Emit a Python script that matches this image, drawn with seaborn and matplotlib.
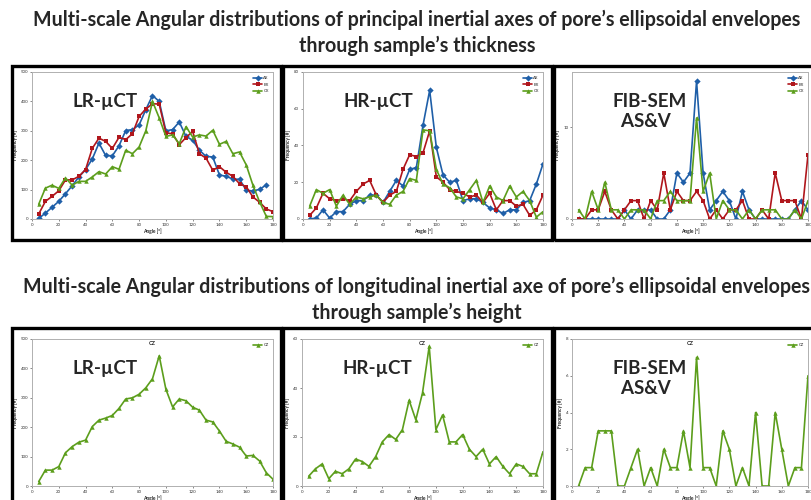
"""Multi-scale angular distributions of pore inertial axes (LR-uCT / HR-uCT / FIB-SEM)."""
import matplotlib
matplotlib.use("Agg")

import matplotlib.pyplot as plt
import numpy as np
import pandas as pd
import seaborn as sns
from matplotlib.patches import Rectangle

# =============================================================================
# Data
# =============================================================================
angles = list(range(5, 185, 5))

lr_ax = [2, 20, 40, 60, 86, 113, 143, 168, 204, 258, 216, 215, 249, 301, 304, 320, 372, 420,
         400, 300, 304, 330, 281, 268, 234, 213, 211, 150, 145, 136, 135, 98, 95, 101, 116, None]
lr_bx = [17, 60, 77, 96, 133, 133, 145, 168, 240, 275, 264, 240, 278, 270, 290, 349, 374, 392,
         391, 293, 290, 253, 277, 298, 222, 207, 166, 178, 159, 145, 120, 110, 75, 57, 34, 25]
lr_cx = [50, 105, 115, 104, 140, 115, 128, 128, 143, 161, 153, 178, 169, 234, 222, 245, 300, 400,
         344, 281, 286, 256, 314, 279, 286, 282, 302, 254, 264, 222, 228, 184, 115, 58, 9, 8]

hr_ax = [0, 0.5, 5, 0.5, 4, 4, 8, 10, 10, 13, 13, 9, 15, 21, 18, 27, 28, 51,
         70, 39, 24, 20, 21, 10, 11, 11, 9, 6, 5, 3, 5, 5, 9, 10, 19, 30]
hr_bx = [2, 6, 14, 11, 10, 11, 10, 15, 19, 21, 13, 9, 13, 15, 27, 35, 34, 36,
         48, 23, 20, 16, 15, 14, 12, 13, 9, 14, 5, 10, 10, 7, 8, 2, 5, 13]
hr_cx = [7, 16, 14, 16, 7, 13, 8, 12, 11, 12, 13, 9, 8, 13, 15, 22, 21, 48.5,
         48, 27, 19, 17, 12, 11, 16, 21, 9, 18, 12, 10, 18, 12, 15, 10, 1, 4]

fib_ax = [0, 0, 0, 0, 0, 0, 0, 1, 0, 1, 1, 1, 0, 0, 1, 5, 4, 5,
          15, 5, 1, 2, 3, 2, 0, 3, 1, 0, 0, 0, 0, 0, 0, 1, 2, 1]
fib_bx = [0, 0, 1, 1, 3, 1, 0, 1, 2, 2, 0, 2, 1, 5, 1, 3, 2, 2,
          3, 2, 0, 1, 0, 1, 1, 2, 0, 0, 1, 0, 5, 2, 2, 2, 0, 7]
fib_cx = [1, 0, 3, 1, 4, 1, 1, 0, 1, 1, 1, 0, 2, 2, 3, 2, 2, 2,
          11, 3, 5, 0, 2, 1, 1, 0, 1, 0, 1, 1, 1, 0, 0, 1, 0, 2]

lr_cz = [15, 54, 54, 66, 113, 134, 149, 156, 202, 224, 231, 240, 264, 296, 300, 312, 334, 365,
         443, 329, 269, 296, 290, 268, 258, 224, 218, 187, 152, 143, 132, 102, 104, 85, 45, 23]
hr_cz = [4, 7, 9, 3, 6, 5, 7, 11, 10, 8, 12, 18, 21, 19, 23, 35, 27, 38,
         57, 23, 29, 18, 18, 21, 15, 12, 15, 9, 12, 8, 5, 9, 8, 5, 5, 14]
fib_cz = [0, 1, 1, 3, 3, 3, 0, 0, 1, 2, 0, 1, 0, 2, 1, 1, 3, 1,
          7, 1, 1, 0, 3, 2, 0, 1, 0, 4, 0, 0, 4, 2, 0, 1, 1, 6]

section_titles = [
    "Multi-scale Angular distributions of principal inertial axes of pore\u2019s ellipsoidal envelopes\n"
    "through sample\u2019s thickness",
    "Multi-scale Angular distributions of longitudinal inertial axe of pore\u2019s ellipsoidal envelopes\n"
    "through sample\u2019s height",
]

# =============================================================================
# Style
# =============================================================================
W, H = 812, 500
COLORS = {"AX": "#1f5fa8", "BX": "#b0161c", "CX": "#5c9e1c", "CZ": "#5c9e1c"}
MARKERS = {"AX": "D", "BX": "s", "CX": "^", "CZ": "^"}

sns.set_theme(style="white")
plt.rcParams["font.family"] = ["Lato", "DejaVu Sans"]


def px_rect(x0, y0, x1, y1):
    """Pixel box (top-left origin) -> figure fraction [left, bottom, width, height]."""
    return [x0 / W, 1 - y1 / H, (x1 - x0) / W, (y1 - y0) / H]


def draw_panel(ax, series, ymax, yticks, label, title=None):
    for name, vals in series.items():
        df = pd.DataFrame({"angle": angles, "freq": vals}).dropna()
        sns.lineplot(data=df, x="angle", y="freq", ax=ax, color=COLORS[name],
                     marker=MARKERS[name], markersize=3.2, markeredgewidth=0,
                     linewidth=1.2, label=name)
    ax.set_xlim(0, 180)
    ax.set_ylim(0, ymax)
    ax.set_xticks(np.arange(0, 181, 20))
    ax.set_yticks(yticks)
    ax.tick_params(labelsize=3.2, length=1.5, width=0.4, pad=1.2,
                   bottom=True, left=True, colors="#333333")
    for sp in ax.spines.values():
        sp.set_color("#b0b0b0")
        sp.set_linewidth(0.7)
    ax.set_xlabel("Angle [\u00b0]", fontsize=3.5, fontweight="bold", labelpad=0.8)
    ax.set_ylabel("Frequency [#]", fontsize=3.5, fontweight="bold", labelpad=2)
    ax.legend(loc="upper right", fontsize=3, frameon=False, handlelength=2.2,
              handletextpad=0.3, labelspacing=0.6, borderaxespad=0.6)
    ax.text(0.17, 0.86, label, transform=ax.transAxes, fontsize=13.5,
            fontweight="bold", va="top", ha="left", linespacing=1.25)
    if title:
        ax.set_title(title, fontsize=4, fontweight="bold", pad=-4)


fig = plt.figure(figsize=(W / 100, H / 100), dpi=100)

# section titles
fig.text(417 / W, 1 - 33 / H, section_titles[0], ha="center", va="center",
         fontsize=14.1, fontweight="bold", linespacing=1.35)
fig.text(417 / W, 1 - 300 / H, section_titles[1], ha="center", va="center",
         fontsize=14.1, fontweight="bold", linespacing=1.35)

# panel frames
for (y0, y1) in [(66, 240), (328, 506)]:
    for (x0, x1) in [(12, 281), (283, 552), (554, 816)]:
        fig.add_artist(Rectangle((x0 / W, 1 - y1 / H), (x1 - x0) / W, (y1 - y0) / H,
                                 transform=fig.transFigure, fill=False,
                                 edgecolor="black", linewidth=2.4))

# top row: principal axes
ax = fig.add_axes(px_rect(32, 72, 273, 219))
draw_panel(ax, {"AX": lr_ax, "BX": lr_bx, "CX": lr_cx}, 500, np.arange(0, 501, 100), "LR-\u00b5CT")
ax = fig.add_axes(px_rect(303, 72, 543, 219))
draw_panel(ax, {"AX": hr_ax, "BX": hr_bx, "CX": hr_cx}, 80, np.arange(0, 81, 20), "HR-\u00b5CT")
ax = fig.add_axes(px_rect(572, 72, 808, 219))
draw_panel(ax, {"AX": fib_ax, "BX": fib_bx, "CX": fib_cx}, 16, [0, 10], "FIB-SEM\n  AS&V")

# bottom row: longitudinal axe
ax = fig.add_axes(px_rect(32, 339, 273, 486))
draw_panel(ax, {"CZ": lr_cz}, 500, np.arange(0, 501, 100), "LR-\u00b5CT", title="CZ")
ax = fig.add_axes(px_rect(302, 339, 543, 486))
draw_panel(ax, {"CZ": hr_cz}, 60, np.arange(0, 61, 20), "HR-\u00b5CT", title="CZ")
ax = fig.add_axes(px_rect(572, 339, 808, 486))
draw_panel(ax, {"CZ": fib_cz}, 8, np.arange(0, 9, 2), "FIB-SEM\n  AS&V", title="CZ")

fig.savefig("out.png", dpi=100)
